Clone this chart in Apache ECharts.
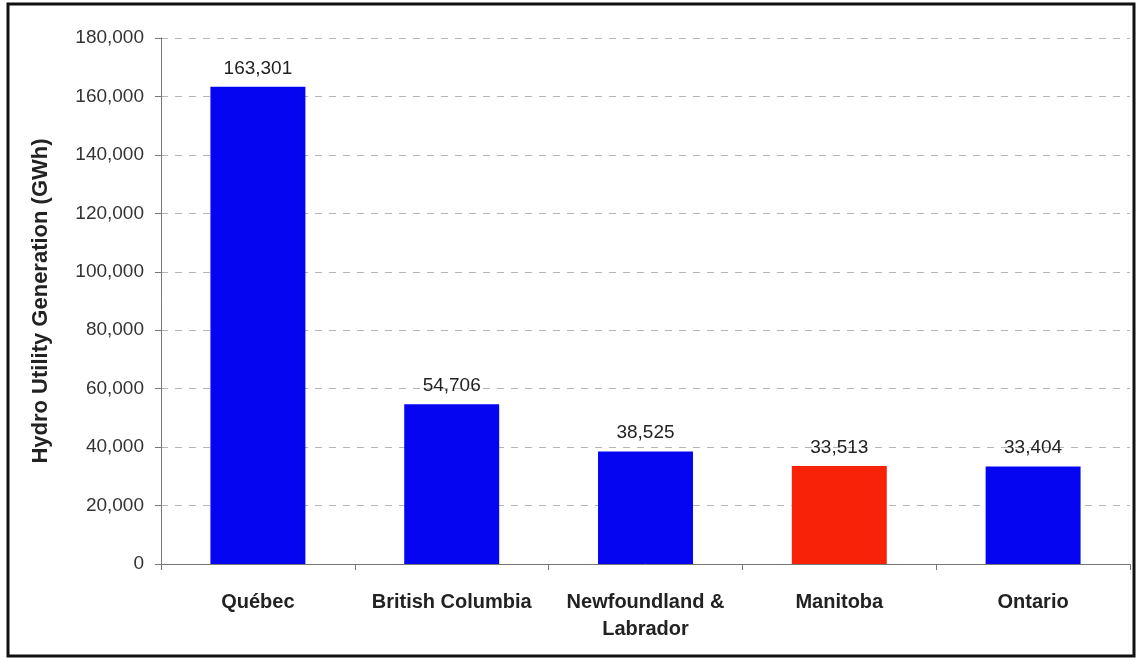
<!DOCTYPE html>
<html>
<head>
<meta charset="utf-8">
<script src="https://cdn.jsdelivr.net/npm/echarts@6/dist/echarts.min.js"></script>
<style>
  html, body { margin: 0; padding: 0; background: #fff; }
  #chart { width: 1137px; height: 660px; }
</style>
</head>
<body>
<div id="chart"></div>
<script>
// provinces and hydro utility generation (GWh)
var provinces = ['Québec', 'British Columbia', 'Newfoundland &\nLabrador', 'Manitoba', 'Ontario'];
var generation = [163301, 54706, 38525, 33513, 33404];
var barColors = ['#0505f2', '#0505f2', '#0505f2', '#f82208', '#0505f2'];
var yTicks = { min: 0, max: 180000, interval: 20000 };

function fmt(v) {
  return Number(v).toLocaleString('en-US');
}

var chart = echarts.init(document.getElementById('chart'));

var barData = generation.map(function (v, i) {
  return { value: v, itemStyle: { color: barColors[i] } };
});

var option = {
  backgroundColor: '#fff',
  animation: false,
  textStyle: { fontFamily: 'Liberation Sans, Arial, sans-serif' },
  grid: { left: 161, right: 7, top: 38, bottom: 96 },
  // black frame round the chart
  graphic: [{
    type: 'rect',
    shape: { x: 8, y: 4, width: 1126, height: 652 },
    style: { fill: 'none', stroke: '#111', lineWidth: 3 },
    silent: true
  }],
  xAxis: {
    type: 'category',
    data: provinces,
    axisLine: { lineStyle: { color: '#777', width: 1 } },
    axisTick: { show: true, length: 6, lineStyle: { color: '#777' } },
    axisLabel: {
      color: '#222',
      fontSize: 20,
      fontWeight: 'bold',
      margin: 25,
      lineHeight: 27,
      interval: 0
    }
  },
  yAxis: {
    type: 'value',
    min: yTicks.min,
    max: yTicks.max,
    interval: yTicks.interval,
    name: 'Hydro Utility Generation (GWh)',
    nameLocation: 'middle',
    nameGap: 109,
    nameTextStyle: { color: '#222', fontSize: 22, fontWeight: 'bold' },
    axisLine: { show: true, lineStyle: { color: '#777', width: 1 } },
    axisTick: { show: true, length: 6, lineStyle: { color: '#777' } },
    axisLabel: {
      color: '#333',
      fontSize: 19,
      margin: 17,
      formatter: fmt
    },
    splitLine: {
      show: true,
      lineStyle: { color: '#b5b5b5', type: [7, 7], width: 1 }
    }
  },
  series: [{
    type: 'bar',
    data: barData,
    barWidth: '49%',
    label: {
      show: true,
      position: 'top',
      distance: 9,
      color: '#222',
      fontSize: 19,
      formatter: function (p) { return fmt(p.value); }
    }
  }]
};

chart.setOption(option);
</script>
</body>
</html>
